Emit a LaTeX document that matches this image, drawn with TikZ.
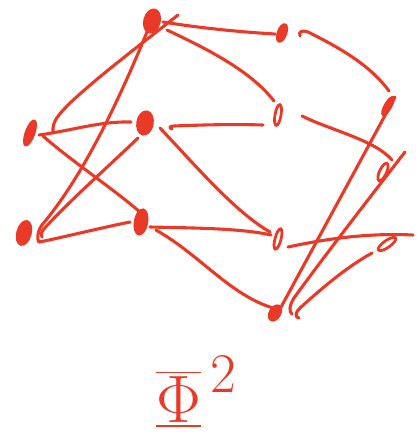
\documentclass[tikz,border=0pt]{standalone}
\usetikzlibrary{shapes.geometric,calc}
\definecolor{ink}{RGB}{233,58,40}
\tikzset{
  stroke/.style={draw=ink,line width=3.1pt,line cap=round,line join=round},
  blob/.style={ellipse,fill=ink,draw=ink,line width=1.5pt,inner sep=0pt},
  ring/.style={ellipse,draw=ink,line width=2.8pt,inner sep=0pt},
}
\begin{document}
\begin{tikzpicture}[x=1pt,y=-1pt]
\useasboundingbox (0,0) rectangle (417,440);
% nodes
\node[blob,minimum width=9,minimum height=27,rotate=-20] (A1) at (30,133) {};
\node[blob,minimum width=14,minimum height=25,rotate=-15] (A2) at (24,233) {};
\node[blob,minimum width=16,minimum height=24,rotate=-15] (B1) at (152,21) {};
\node[blob,minimum width=16,minimum height=24,rotate=-10] (B2) at (145,123) {};
\node[blob,minimum width=13,minimum height=26,rotate=-10] (B3) at (141,222) {};
\node[blob,minimum width=9,minimum height=19,rotate=-20] (C1) at (282,33) {};
\node[ring,minimum width=6,minimum height=21,rotate=-10] (C2) at (278,115) {};
\node[ring,minimum width=6,minimum height=21,rotate=-15] (C3) at (278,239) {};
\node[blob,minimum width=11,minimum height=17,rotate=-30] (C4) at (275,313) {};
\node[blob,minimum width=7,minimum height=21,rotate=-30] (D1) at (388,106) {};
\node[ring,minimum width=7,minimum height=19,rotate=-25] (D2) at (383,172) {};
\node[ring,minimum width=7,minimum height=21,rotate=-55] (D3) at (387,244) {};
\coordinate (E) at (413,235);
\coordinate (F) at (405,152);
% connectors
\draw[stroke] ($(B1)+(11,1)$) .. controls (200,28) and (240,32) .. ($(C1)+(-7,1)$);
\draw[stroke] ($(B1)+(15,9)$) .. controls (205,48) and (250,70) .. ($(C2)+(-4,-14)$);
\draw[stroke] ($(C1)+(18,3)$) .. controls (298,31) and (303,30) .. (308,32) .. controls (340,48) and (370,65) .. ($(D1)+(1,-15)$);
\draw[stroke] ($(C2)+(-15,10)$) .. controls (230,124) and (200,125) .. (174,126) .. controls (169,126) and (169,128) .. (172,129);
\draw[stroke] ($(C2)+(24,1)$) .. controls (330,130) and (375,140) .. ($(D2)+(9,-12)$);
\draw[stroke] ($(A1)+(9,2)$) .. controls (70,131) and (100,121) .. ($(B2)+(-14,-1)$);
\draw[stroke] ($(A1)+(23,-1)$) .. controls (52,122) and (58,115) .. (70,103) .. controls (100,75) and (140,45) .. ($(B1)+(26,-6)$);
\draw[stroke] ($(B1)+(-5,11)$) .. controls (115,110) and (80,180) .. (42,225) .. controls (37,232) and (37,240) .. ($(A2)+(15,9)$);
\draw[stroke] ($(A2)+(15,9)$) .. controls (47,241) and (100,228) .. ($(B3)+(-11,0)$);
\draw[stroke] ($(B2)+(-7,15)$) .. controls (110,165) and (65,205) .. (43,230) .. controls (41,233) and (41,236) .. ($(A2)+(18,4)$);
\draw[stroke] ($(A1)+(13,3)$) .. controls (70,160) and (115,190) .. ($(B3)+(0,-9)$);
\draw[stroke] ($(B2)+(15,5)$) .. controls (195,165) and (235,212) .. ($(C3)+(-8,-7)$);
\draw[stroke] ($(B3)+(9,5)$) .. controls (190,228) and (240,228) .. ($(C3)+(-7,-4)$);
\draw[stroke] ($(B3)+(15,8)$) .. controls (200,255) and (230,295) .. ($(C4)+(-2,-5)$);
\draw[stroke] ($(C3)+(10,8)$) .. controls (330,238) and (370,233) .. (E);
\draw[stroke] ($(C4)+(5,-4)$) -- ($(D1)+(7,-9)$);
\draw[stroke] ($(C4)+(17,1)$) .. controls (289,312) and (289,306) .. (294,298) .. controls (320,262) and (360,210) .. (F);
\draw[stroke] ($(C4)+(24,5)$) .. controls (295,318) and (295,312) .. (300,308) .. controls (320,290) and (345,268) .. ($(D3)+(-15,9)$);
% label
\node[text=ink,font=\Huge,scale=2.7,inner sep=0pt] (phi) at (197,392) {$\overline{\underline{\Phi}}^{\,2}$};
\end{tikzpicture}
\end{document}
